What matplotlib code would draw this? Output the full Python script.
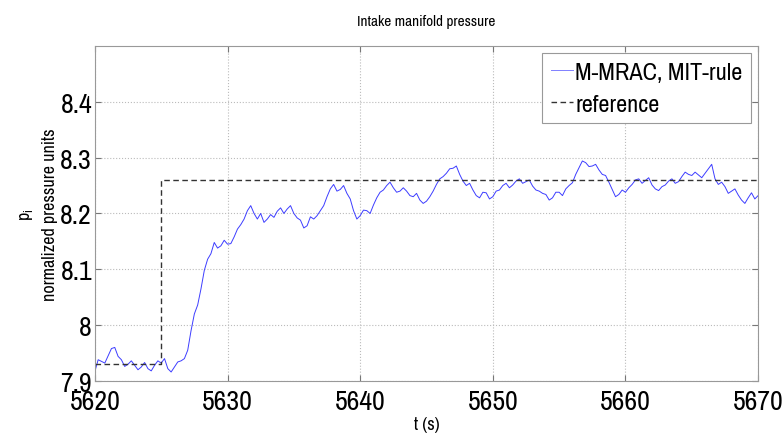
import numpy as np
import matplotlib
matplotlib.use("Agg")
import matplotlib.pyplot as plt
from matplotlib import font_manager

# prefer a narrow face when one is installed
names = sorted({f.name for f in font_manager.fontManager.ttflist})
narrow = [n for n in names if "Narrow" in n or "Condensed" in n]
plt.rcParams["font.family"] = narrow[:1] + ["DejaVu Sans"]

# ── data ────────────────────────────────────────────────────────────────
t_start, t_end, dt = 5620.0, 5670.0, 0.25

# measured intake pressure, 4 samples per second
p_meas = [
    7.917, 7.938, 7.935, 7.932,   # 5620
    7.945, 7.958, 7.960, 7.944,   # 5621
    7.938, 7.926, 7.930, 7.936,   # 5622
    7.928, 7.920, 7.925, 7.933,   # 5623
    7.922, 7.918, 7.928, 7.936,   # 5624
    7.932, 7.940, 7.922, 7.916,   # 5625
    7.925, 7.934, 7.936, 7.940,   # 5626
    7.955, 7.990, 8.020, 8.036,   # 5627
    8.065, 8.098, 8.118, 8.128,   # 5628
    8.148, 8.138, 8.142, 8.152,   # 5629
    8.145, 8.146, 8.158, 8.172,   # 5630
    8.180, 8.190, 8.205, 8.214,   # 5631
    8.200, 8.190, 8.200, 8.184,   # 5632
    8.190, 8.198, 8.193, 8.204,   # 5633
    8.210, 8.200, 8.208, 8.214,   # 5634
    8.200, 8.192, 8.188, 8.174,   # 5635
    8.178, 8.194, 8.190, 8.196,   # 5636
    8.205, 8.214, 8.230, 8.244,   # 5637
    8.252, 8.240, 8.243, 8.250,   # 5638
    8.236, 8.226, 8.205, 8.190,   # 5639
    8.196, 8.206, 8.205, 8.200,   # 5640
    8.215, 8.228, 8.238, 8.242,   # 5641
    8.250, 8.256, 8.246, 8.238,   # 5642
    8.240, 8.246, 8.240, 8.232,   # 5643
    8.230, 8.236, 8.224, 8.218,   # 5644
    8.222, 8.230, 8.240, 8.252,   # 5645
    8.262, 8.266, 8.272, 8.280,   # 5646
    8.281, 8.285, 8.270, 8.258,   # 5647
    8.250, 8.254, 8.242, 8.232,   # 5648
    8.228, 8.238, 8.237, 8.226,   # 5649
    8.230, 8.240, 8.242, 8.250,   # 5650
    8.254, 8.246, 8.251, 8.258,   # 5651
    8.262, 8.254, 8.257, 8.260,   # 5652
    8.249, 8.242, 8.240, 8.236,   # 5653
    8.234, 8.224, 8.228, 8.238,   # 5654
    8.238, 8.232, 8.244, 8.250,   # 5655
    8.255, 8.270, 8.282, 8.294,   # 5656
    8.291, 8.284, 8.285, 8.288,   # 5657
    8.278, 8.270, 8.268, 8.256,   # 5658
    8.243, 8.230, 8.234, 8.242,   # 5659
    8.238, 8.246, 8.252, 8.260,   # 5660
    8.262, 8.254, 8.259, 8.264,   # 5661
    8.251, 8.244, 8.241, 8.248,   # 5662
    8.251, 8.258, 8.262, 8.254,   # 5663
    8.257, 8.266, 8.274, 8.270,   # 5664
    8.268, 8.274, 8.269, 8.264,   # 5665
    8.272, 8.280, 8.288, 8.262,   # 5666
    8.252, 8.256, 8.248, 8.236,   # 5667
    8.240, 8.244, 8.233, 8.224,   # 5668
    8.218, 8.228, 8.237, 8.226,   # 5669
    8.232,                        # 5670
]
t_meas = t_start + dt * np.arange(len(p_meas))

# reference step
t_ref = [5620.0, 5625.0, 5625.0, 5670.0]
p_ref = [7.93, 7.93, 8.26, 8.26]

x_ticks = [5620, 5630, 5640, 5650, 5660, 5670]
y_ticks = [7.9, 8.0, 8.1, 8.2, 8.3, 8.4]
y_tick_labels = ["7.9", "8", "8.1", "8.2", "8.3", "8.4"]

# ── figure ──────────────────────────────────────────────────────────────
fig = plt.figure(figsize=(7.84, 4.35), dpi=100)
ax = fig.add_axes([0.121, 0.122, 0.846, 0.770])

ax.plot(t_meas, p_meas, color="#3d3dff", lw=0.7, label="M-MRAC, MIT-rule")
ax.plot(t_ref, p_ref, color="#333333", lw=1.0, ls=(0, (4, 2.5)), label="reference")

ax.set_xlim(5620, 5670)
ax.set_ylim(7.9, 8.5)
ax.set_xticks(x_ticks)
ax.set_yticks(y_ticks)
ax.set_yticklabels(y_tick_labels)
big = 20 if narrow else 15
ax.tick_params(direction="in", length=4, color="#777777", labelsize=big, pad=2,
               top=True, right=True)
ax.tick_params(axis="x", pad=6)
for s in ax.spines.values():
    s.set_color("#999999")
ax.grid(True, color="#bbbbbb", ls=":", lw=0.8)

ax.set_xlabel("t (s)", fontsize=13, labelpad=1)
ax.set_ylabel("p$_\\mathregular{i}$\nnormalized pressure units", fontsize=13,
              labelpad=2, linespacing=1.5)
ax.set_title("Intake manifold pressure", fontsize=11, pad=15)

leg = ax.legend(loc="upper right", fontsize=big - 2.5, handlelength=0.9,
                handletextpad=0.1, borderpad=0.35, labelspacing=0.45,
                fancybox=False, framealpha=1, borderaxespad=0.3)
leg.get_frame().set_edgecolor("#999999")
leg.get_frame().set_linewidth(0.8)
leg.get_lines()[0].set_color("#8080ff")

fig.savefig("out.png", dpi=100)
